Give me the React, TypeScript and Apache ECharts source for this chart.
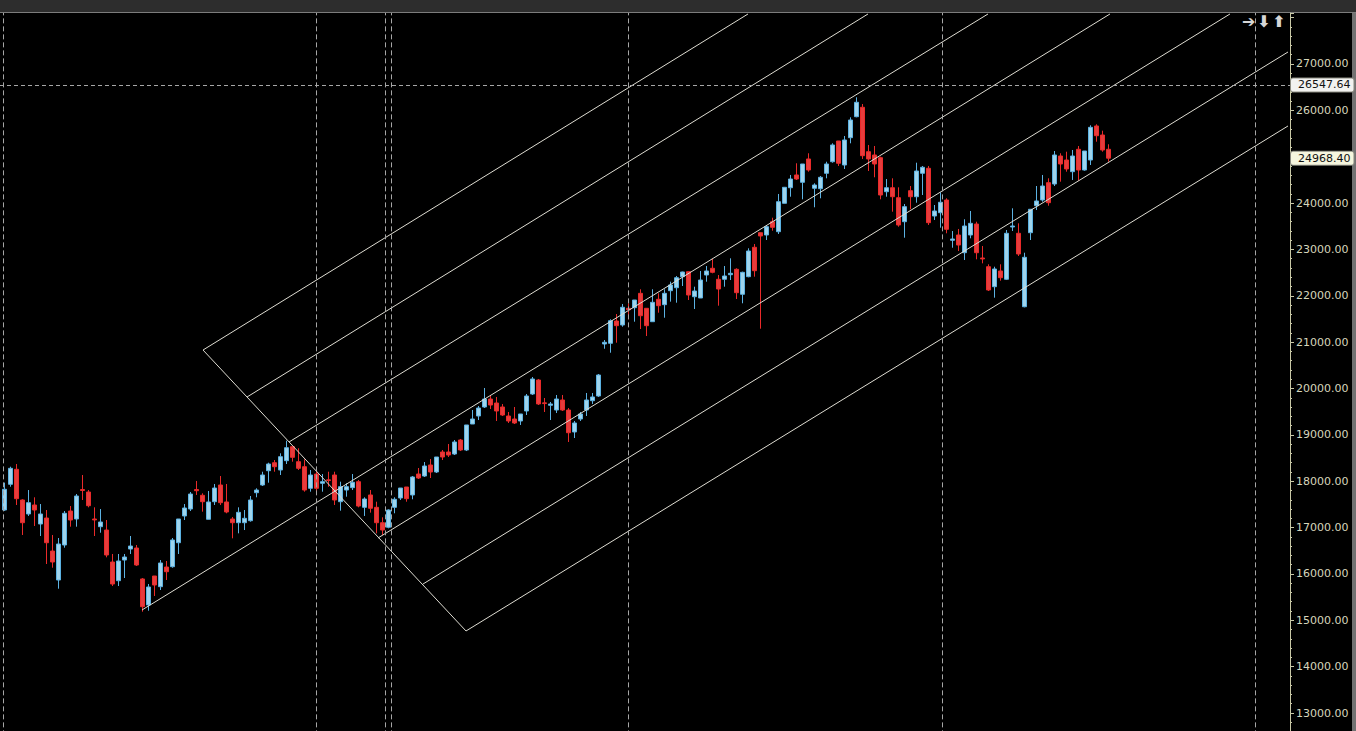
import React, { useEffect, useRef } from "react";
import * as echarts from "echarts";

// ---- Daily candles (index = trading day position) ----
const opens = [
  17379, 17933, 18257, 17595, 17293, 17487, 17077, 17206, 16494, 15869,
  16624, 17357, 17185, 17820, 17767, 17185, 17019, 16947, 16257, 15854,
  16300, 16537, 16559, 15891, 15330, 15955, 15725, 16149, 16156, 16673,
  17250, 17400, 17820, 17696, 17178, 17558, 17918, 17552, 17185, 17105,
  17105, 17148, 17752, 17918, 18227, 18399, 18242, 18443, 18744, 18421,
  18313, 17847, 18155, 17955, 18030, 18134, 17558, 17810, 17861, 17990,
  17437, 17703, 17437, 17105, 17006, 17437, 17638, 17875, 17703, 18155,
  18112, 18350, 18199, 18630, 18630, 18587, 18889, 18673, 19234, 19407,
  19601, 19773, 19687, 19601, 19407, 19342, 19299, 19515, 19881, 20183,
  19690, 19638, 19536, 19752, 19536, 19062, 19342, 19536, 19737, 19838,
  20960, 20975, 21456, 21370, 21730, 21743, 22053, 21730, 21441, 21924,
  21808, 22110, 22174, 22412, 22520, 21980, 21952, 22448, 22593, 22356,
  22356, 22455, 22571, 22032, 22412, 23046, 23361, 23311, 23598, 23382,
  23995, 24331, 24606, 24448, 24951, 24319, 24310, 24642, 24892, 25339,
  24821, 25410, 25863, 26066, 25108, 25037, 24979, 24245, 24331, 24116,
  23598, 24267, 24137, 24642, 24750, 23721, 23792, 24066, 23197, 23311,
  22929, 23311, 23548, 22815, 22627, 22196, 22535, 22356, 23484, 23348,
  21764, 23361, 23943, 24066, 24440, 24411, 25015, 24929, 24677, 25160,
  24713, 24929, 25663, 25468, 25160,
];
const closes = [
  17826, 18278, 17623, 17105, 17537, 17379, 17293, 16673, 16257, 16645,
  17308, 17163, 17681, 17800, 17472, 17165, 17120, 16408, 15783, 16279,
  16365, 16602, 16192, 15293, 15718, 15761, 16236, 16048, 16732, 17185,
  17422, 17724, 17795, 17558, 17552, 17853, 17537, 17336, 17105, 17329,
  17200, 17595, 17810, 18134, 18371, 18313, 18529, 18723, 18515, 18278,
  17810, 18134, 17847, 17990, 18015, 17595, 17882, 17882, 17977, 17465,
  17616, 17416, 17105, 16947, 17379, 17610, 17853, 17623, 18091, 18069,
  18328, 18199, 18522, 18522, 18565, 18846, 18673, 19213, 19342, 19579,
  19773, 19644, 19515, 19428, 19299, 19256, 19450, 19838, 20205, 19666,
  19675, 19666, 19773, 19536, 19046, 19256, 19450, 19752, 19817, 20291,
  20997, 21462, 21355, 21752, 21700, 21909, 21570, 21355, 21859, 21786,
  22053, 22233, 22390, 22513, 22017, 22103, 22340, 22535, 22506, 22146,
  22427, 22485, 22067, 22506, 22966, 22541, 23290, 23490, 23477, 24030,
  24340, 24519, 24519, 24843, 24713, 24390, 24556, 24843, 25253, 24858,
  25361, 25792, 26174, 25022, 24951, 24843, 24174, 24331, 24137, 23527,
  23922, 24137, 24692, 24772, 23577, 23829, 24017, 23434, 23225, 23095,
  23505, 23563, 22929, 22795, 22125, 22578, 22390, 23348, 23505, 22901,
  22830, 23866, 24045, 24368, 24008, 25037, 24843, 24735, 25015, 24713,
  25123, 25634, 25453, 25145, 24968.4,
];
const lows = [
  17360, 17881, 17487, 16840, 17250, 17034, 16818, 16214, 16134, 15681,
  16566, 17019, 17019, 17595, 17437, 16818, 16889, 16358, 15739, 15739,
  15912, 16430, 16171, 15185, 15207, 15524, 15653, 15869, 16134, 16430,
  17163, 17357, 17703, 17343, 17178, 17487, 17487, 17308, 16768, 16876,
  16947, 17127, 17653, 17897, 17968, 18205, 18134, 18371, 18421, 18242,
  17774, 17774, 17774, 17774, 17881, 17487, 17364, 17666, 17810, 17437,
  17250, 17322, 16876, 16840, 16984, 17308, 17595, 17558, 17610, 18048,
  18091, 18069, 18177, 18457, 18522, 18565, 18651, 18651, 19234, 19320,
  19579, 19558, 19299, 19407, 19256, 19234, 19213, 19428, 19860, 19644,
  19493, 19320, 19471, 19515, 18846, 18932, 19299, 19407, 19666, 19817,
  20858, 20772, 20988, 21333, 21493, 21441, 21283, 21132, 21441, 21635,
  21527, 21873, 21851, 22211, 21909, 21715, 21952, 22304, 22485, 21786,
  22196, 22340, 21930, 21838, 22399, 22412, 21290, 23203, 23404, 23333,
  23995, 24137, 24498, 24081, 24677, 23909, 24103, 24534, 24871, 24800,
  24735, 25289, 25850, 24951, 24692, 24556, 24081, 24137, 23814, 23490,
  23253, 23865, 24008, 24174, 23527, 23635, 23469, 23348, 23037, 22966,
  22772, 23240, 22787, 22700, 22103, 21959, 22325, 22340, 23397, 22858,
  21751, 23203, 23850, 24030, 23943, 24368, 24461, 24677, 24498, 24483,
  24698, 24821, 25324, 25108, 24892,
];
const highs = [
  17970, 18313, 18371, 17610, 17810, 17653, 17508, 17379, 16840, 16775,
  17357, 17465, 17724, 18134, 17810, 17437, 17400, 17163, 16430, 16430,
  16430, 16818, 16624, 15912, 15783, 15955, 16300, 16279, 16775, 17185,
  17508, 17767, 18005, 17739, 17789, 17940, 18112, 17940, 17228, 17437,
  17379, 17681, 17847, 18205, 18399, 18457, 18602, 18874, 18744, 18710,
  18472, 18242, 18242, 18155, 18205, 18205, 17990, 17955, 18155, 18026,
  17653, 17810, 17558, 17221, 17393, 17653, 17853, 17875, 18112, 18285,
  18414, 18479, 18522, 18673, 18803, 18889, 18911, 19213, 19536, 19622,
  20011, 19860, 19817, 19665, 19493, 19601, 19450, 19881, 20248, 20205,
  19795, 19709, 19860, 19860, 19579, 19299, 19493, 19903, 19903, 20313,
  21046, 21493, 21607, 21823, 21838, 21909, 22140, 21730, 22140, 22053,
  22140, 22304, 22427, 22520, 22520, 22196, 22535, 22642, 22794, 22448,
  22642, 22808, 22593, 22520, 23024, 23117, 23361, 23527, 23684, 24196,
  24347, 24606, 24858, 24843, 25074, 24426, 24584, 24892, 25289, 25339,
  25447, 25850, 26282, 26137, 25253, 25231, 25001, 24519, 24534, 24340,
  23980, 24368, 24871, 24800, 24800, 23958, 24232, 24103, 23397, 23441,
  23650, 23829, 23598, 23074, 22679, 22627, 22679, 23419, 23887, 23563,
  22929, 23866, 24368, 24606, 24534, 25123, 25074, 25108, 25145, 25231,
  25123, 25678, 25699, 25561, 25268,
];

// ---- Drawn trend / fork lines: start and end as (day index, price) ----
const fanStartDay = [33.12, 40.45, 47.45, 22.95, 62.28, 69.78, 76.95, 33.12];
const fanStartPrice = [20830, 19816, 18846, 15222, 16775, 15782, 14769, 20830];
const fanEndDay = [123.95, 143.95, 163.95, 184.28, 204.28, 213.95, 213.95, 76.95];
const fanEndPrice = [28079, 28079, 28079, 28079, 28079, 27259, 25663, 14769];

// ---- Markers ----
const periodMarkers = [-0.17, 51.95, 63.45, 64.45, 104, 156.33, 208.5];
const crosshairPrice = 26547.64;
const lastPrice = 24968.4;
const labelledMin = 13000;
const labelledMax = 27000;

const FONT = "DejaVu Sans";

export default function App() {
  const ref = useRef<HTMLDivElement>(null);

  useEffect(() => {
    if (!ref.current) return;
    const chart = echarts.init(ref.current, undefined, { renderer: "svg" });

    const candleData = opens.map((o, i) => [i, o, closes[i], lows[i], highs[i]]);

    const fanSeries = fanStartDay.map((d, i) => ({
      type: "line" as const,
      data: [
        [d, fanStartPrice[i]],
        [fanEndDay[i], fanEndPrice[i]],
      ],
      symbol: "none",
      silent: true,
      z: 3,
      lineStyle: { color: "#dedcd2", width: 1 },
    }));

    const labelBase = {
      show: true,
      position: "end",
      distance: 1,
      color: "#111",
      fontSize: 11,
      fontFamily: FONT,
      borderColor: "#8a8a80",
      borderWidth: 1,
      borderRadius: 2,
      padding: [1, 3, 0, 7],
      lineHeight: 12,
    };

    const markData: any[] = periodMarkers.map((k) => ({
      xAxis: k,
      lineStyle: { color: "#a6a6a6", type: [5, 3], width: 1 },
      label: { show: false },
    }));
    markData.push({
      yAxis: crosshairPrice,
      lineStyle: { color: "#a6a6a6", type: [4, 3], width: 1 },
      label: { ...labelBase, formatter: crosshairPrice.toFixed(2), backgroundColor: "#f2f2f0" },
    });
    markData.push({
      yAxis: lastPrice,
      lineStyle: { color: "rgba(0,0,0,0)", width: 1 },
      label: { ...labelBase, formatter: lastPrice.toFixed(2), backgroundColor: "#f6f6de" },
    });

    const iconStyle = { fill: "#d6d6d6", fontSize: 16, fontFamily: FONT, fontWeight: "bold" };

    chart.setOption({
      animation: false,
      backgroundColor: "#000000",
      grid: {
        left: 0,
        top: 13,
        width: 1290,
        height: 746.36,
        containLabel: false,
        outerBoundsMode: "none",
      },
      xAxis: {
        type: "value",
        min: -0.7167,
        max: 214.283,
        show: false,
        splitLine: { show: false },
      },
      yAxis: {
        type: "value",
        position: "right",
        min: 12000,
        max: 28100,
        interval: 1000,
        splitLine: { show: false },
        axisLine: { show: true, onZero: false, lineStyle: { color: "#c8c8a6", width: 1 } },
        axisTick: { show: true, length: 4, lineStyle: { color: "#c8c8a6" } },
        minorTick: { show: true, splitNumber: 5, length: 2, lineStyle: { color: "#c8c8a6" } },
        axisLabel: {
          color: "#d6d6bc",
          fontSize: 11,
          fontFamily: FONT,
          margin: 6,
          formatter: (v: number) =>
            v % 1000 === 0 && v >= labelledMin && v <= labelledMax ? v.toFixed(2) : "",
        },
      },
      series: [
        {
          type: "candlestick",
          data: candleData,
          barWidth: 4,
          z: 2,
          itemStyle: {
            color: "#9fd4ec",
            color0: "#e63c3c",
            borderColor: "#5cb2e2",
            borderColor0: "#ea2a2a",
            borderWidth: 1,
          },
          markLine: {
            symbol: ["none", "none"],
            silent: true,
            animation: false,
            data: markData,
          },
        },
        ...fanSeries,
      ],
      graphic: [
        { type: "rect", left: 0, top: 0, shape: { width: 1356, height: 12 }, style: { fill: "#2d2d2d" }, silent: true },
        { type: "rect", left: 0, top: 12, shape: { width: 1356, height: 1 }, style: { fill: "#7c7c7c" }, silent: true },
        { type: "rect", left: 1352, top: 13, shape: { width: 4, height: 718 }, style: { fill: "#727272" }, silent: true },
        { type: "text", left: 1242, top: 13, silent: true, style: { text: "➔", ...iconStyle } },
        { type: "text", left: 1257, top: 13, silent: true, style: { text: "⬇", ...iconStyle } },
        { type: "text", left: 1272, top: 13, silent: true, style: { text: "⬆", ...iconStyle } },
      ],
    });

    return () => chart.dispose();
  }, []);

  return (
    <div style={{ position: "fixed", left: 0, top: 0, width: 1356, height: 731, background: "#000", overflow: "hidden" }}>
      <div ref={ref} style={{ width: 1356, height: 731 }} />
    </div>
  );
}
